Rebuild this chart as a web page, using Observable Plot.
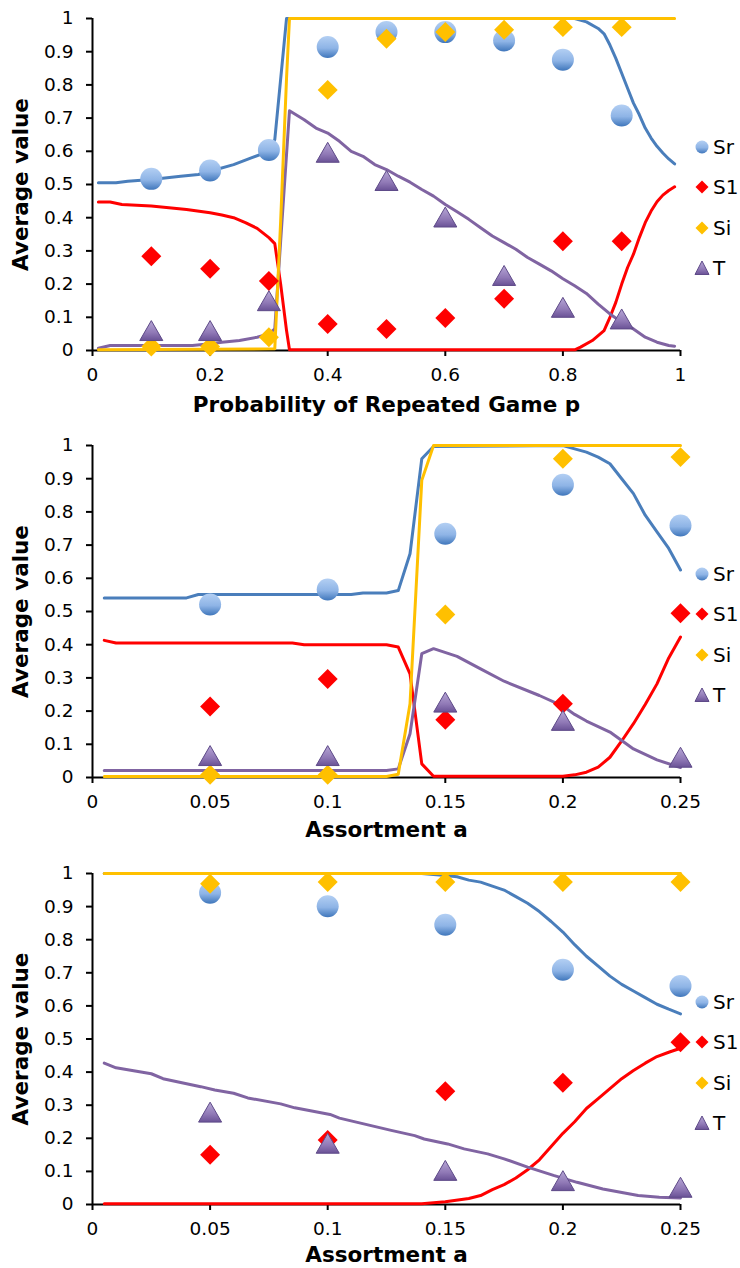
<!DOCTYPE html>
<html><head><meta charset="utf-8">
<script src="https://cdn.jsdelivr.net/npm/d3@7"></script>
<script src="https://cdn.jsdelivr.net/npm/@observablehq/plot@0.6"></script>
<style>
body{margin:0;background:#fff;font-family:"DejaVu Sans",sans-serif;}
.panel{position:relative;width:740px;}
.item{position:absolute;left:694px;display:flex;align-items:center;font-size:20px;color:#000;transform:translateY(-50%);}
.item svg{margin-right:3px;}
g[aria-label="y-axis label"] text, g[aria-label="x-axis label"] text{font-weight:bold!important;font-size:21.5px!important;}
</style></head><body>
<svg width="0" height="0" style="position:absolute"><defs>
<linearGradient id="gSr" x1="0" y1="0" x2="0" y2="1">
<stop offset="0" stop-color="#b3cff3"/><stop offset="0.55" stop-color="#8eb4e6"/><stop offset="1" stop-color="#3f76bb"/>
</linearGradient>
<linearGradient id="gT" x1="0" y1="0" x2="0" y2="1">
<stop offset="0" stop-color="#b7a7d6"/><stop offset="0.6" stop-color="#9079b6"/><stop offset="1" stop-color="#6a5296"/>
</linearGradient>
</defs></svg>
<div id="chart"></div>
<script>
// ---------- shared ----------
const seriesNames = ["Sr", "S1", "Si", "T"];
const yTicks = [0, 0.1, 0.2, 0.3, 0.4, 0.5, 0.6, 0.7, 0.8, 0.9, 1];
const yTickLabels = ["0", "0.1", "0.2", "0.3", "0.4", "0.5", "0.6", "0.7", "0.8", "0.9", "1"];
const yLabel = "Average value";

// ---------- panel 1 ----------
const p1XLabel = "Probability of Repeated Game p";
const p1XTicks = [0, 0.2, 0.4, 0.6, 0.8, 1];
const p1XTickLabels = ["0", "0.2", "0.4", "0.6", "0.8", "1"];
const p1SrLineX = [0.01, 0.04, 0.06, 0.1, 0.15, 0.18, 0.2, 0.24, 0.27, 0.3, 0.31, 0.33, 0.82, 0.84, 0.86, 0.87, 0.88, 0.89, 0.9, 0.91, 0.92, 0.93, 0.94, 0.95, 0.96, 0.97, 0.98, 0.99];
const p1SrLineY = [0.505, 0.505, 0.51, 0.515, 0.525, 0.53, 0.54, 0.56, 0.58, 0.6, 0.635, 1.0, 1.0, 0.99, 0.97, 0.954, 0.92, 0.88, 0.835, 0.79, 0.745, 0.71, 0.67, 0.64, 0.615, 0.595, 0.577, 0.562];
const p1S1LineX = [0.01, 0.03, 0.05, 0.1, 0.13, 0.16, 0.2, 0.22, 0.24, 0.26, 0.28, 0.3, 0.31, 0.32, 0.33, 0.335, 0.82, 0.83, 0.85, 0.87, 0.88, 0.89, 0.9, 0.91, 0.92, 0.93, 0.94, 0.95, 0.96, 0.97, 0.98, 0.99];
const p1S1LineY = [0.447, 0.447, 0.44, 0.435, 0.43, 0.425, 0.415, 0.408, 0.4, 0.385, 0.368, 0.34, 0.322, 0.2, 0.06, 0.002, 0.002, 0.01, 0.03, 0.06, 0.1, 0.145, 0.2, 0.25, 0.29, 0.34, 0.385, 0.42, 0.448, 0.468, 0.482, 0.493];
const p1SiLineX = [0.01, 0.31, 0.32, 0.33, 0.335, 0.99];
const p1SiLineY = [0.002, 0.005, 0.39, 0.82, 1.0, 1.0];
const p1TLineX = [0.01, 0.03, 0.17, 0.2, 0.22, 0.25, 0.28, 0.3, 0.31, 0.32, 0.335, 0.36, 0.38, 0.4, 0.42, 0.44, 0.46, 0.48, 0.5, 0.52, 0.54, 0.56, 0.58, 0.6, 0.62, 0.64, 0.66, 0.68, 0.7, 0.72, 0.74, 0.76, 0.78, 0.8, 0.82, 0.84, 0.86, 0.88, 0.9, 0.92, 0.94, 0.96, 0.98, 0.99];
const p1TLineY = [0.007, 0.015, 0.015, 0.02, 0.025, 0.03, 0.04, 0.05, 0.065, 0.33, 0.722, 0.695, 0.67, 0.655, 0.63, 0.6, 0.585, 0.56, 0.545, 0.525, 0.507, 0.485, 0.465, 0.44, 0.418, 0.395, 0.37, 0.345, 0.325, 0.305, 0.28, 0.26, 0.24, 0.216, 0.195, 0.172, 0.14, 0.11, 0.085, 0.065, 0.04, 0.025, 0.015, 0.013];
const p1MarkX = [0.1, 0.2, 0.3, 0.4, 0.5, 0.6, 0.7, 0.8, 0.9];
const p1SrMark = [0.517, 0.542, 0.604, 0.914, 0.959, 0.959, 0.934, 0.876, 0.708];
const p1S1Mark = [0.284, 0.246, 0.209, 0.08, 0.065, 0.098, 0.156, 0.329, 0.329];
const p1SiMark = [0.012, 0.012, 0.04, 0.785, 0.939, 0.959, 0.966, 0.974, 0.974];
const p1TMark = [0.05, 0.05, 0.14, 0.587, 0.502, 0.392, 0.216, 0.12, 0.085];

// ---------- panel 2 ----------
const p2XLabel = "Assortment a";
const p23XTicks = [0, 0.05, 0.1, 0.15, 0.2, 0.25];
const p23XTickLabels = ["0", "0.05", "0.1", "0.15", "0.2", "0.25"];
const p2SrLineX = [0.005, 0.04, 0.045, 0.11, 0.115, 0.125, 0.13, 0.135, 0.14, 0.145, 0.2, 0.205, 0.21, 0.215, 0.22, 0.225, 0.23, 0.235, 0.24, 0.245, 0.25];
const p2SrLineY = [0.541, 0.541, 0.551, 0.551, 0.556, 0.556, 0.563, 0.674, 0.96, 0.997, 1.0, 0.99, 0.98, 0.965, 0.945, 0.9, 0.855, 0.79, 0.74, 0.69, 0.625];
const p2S1LineX = [0.005, 0.01, 0.085, 0.09, 0.125, 0.13, 0.135, 0.14, 0.145, 0.2, 0.205, 0.21, 0.215, 0.22, 0.225, 0.23, 0.235, 0.24, 0.245, 0.25];
const p2S1LineY = [0.413, 0.405, 0.405, 0.4, 0.4, 0.393, 0.312, 0.041, 0.004, 0.004, 0.008, 0.016, 0.031, 0.061, 0.11, 0.162, 0.22, 0.282, 0.36, 0.423];
const p2SiLineX = [0.005, 0.125, 0.13, 0.135, 0.14, 0.145, 0.25];
const p2SiLineY = [0.003, 0.003, 0.01, 0.222, 0.895, 1.0, 1.0];
const p2TLineX = [0.005, 0.125, 0.13, 0.135, 0.14, 0.145, 0.155, 0.165, 0.175, 0.19, 0.2, 0.205, 0.21, 0.22, 0.23, 0.24, 0.25];
const p2TLineY = [0.021, 0.021, 0.026, 0.132, 0.373, 0.388, 0.365, 0.327, 0.29, 0.247, 0.215, 0.19, 0.17, 0.137, 0.086, 0.053, 0.03];
const p23MarkX = [0.05, 0.1, 0.15, 0.2, 0.25];
const p2SrMark = [0.521, 0.566, 0.734, 0.882, 0.759];
const p2S1Mark = [0.214, 0.297, 0.174, 0.222, 0.495];
const p2SiMark = [0.008, 0.008, 0.491, 0.96, 0.965];
const p2TMark = [0.056, 0.056, 0.217, 0.162, 0.051];

// ---------- panel 3 ----------
const p3XLabel = "Assortment a";
const p3SrLineX = [0.005, 0.14, 0.15, 0.155, 0.16, 0.165, 0.17, 0.175, 0.18, 0.185, 0.19, 0.195, 0.2, 0.205, 0.21, 0.215, 0.22, 0.225, 0.23, 0.235, 0.24, 0.245, 0.25];
const p3SrLineY = [1.0, 1.0, 0.994, 0.99, 0.98, 0.974, 0.962, 0.95, 0.93, 0.91, 0.885, 0.855, 0.823, 0.785, 0.75, 0.72, 0.69, 0.665, 0.645, 0.625, 0.605, 0.59, 0.576];
const p3S1LineX = [0.005, 0.14, 0.15, 0.16, 0.165, 0.17, 0.175, 0.18, 0.185, 0.19, 0.195, 0.2, 0.205, 0.21, 0.215, 0.22, 0.225, 0.23, 0.235, 0.24, 0.245, 0.25];
const p3S1LineY = [0.002, 0.002, 0.008, 0.018, 0.027, 0.045, 0.06, 0.08, 0.105, 0.135, 0.175, 0.215, 0.25, 0.29, 0.32, 0.35, 0.38, 0.405, 0.427, 0.447, 0.46, 0.472];
const p3SiLineX = [0.005, 0.25];
const p3SiLineY = [1.0, 1.0];
const p3TLineX = [0.005, 0.01, 0.025, 0.03, 0.046, 0.052, 0.06, 0.066, 0.08, 0.086, 0.101, 0.105, 0.118, 0.127, 0.137, 0.141, 0.151, 0.158, 0.168, 0.175, 0.185, 0.196, 0.206, 0.217, 0.232, 0.241, 0.25];
const p3TLineY = [0.427, 0.413, 0.395, 0.38, 0.356, 0.346, 0.336, 0.322, 0.304, 0.292, 0.272, 0.261, 0.239, 0.224, 0.208, 0.198, 0.183, 0.168, 0.153, 0.138, 0.113, 0.088, 0.067, 0.047, 0.027, 0.022, 0.02];
const p3SrMark = [0.942, 0.901, 0.845, 0.709, 0.66];
const p3S1Mark = [0.15, 0.195, 0.342, 0.368, 0.49];
const p3SiMark = [0.969, 0.974, 0.974, 0.974, 0.974];
const p3TMark = [0.269, 0.175, 0.093, 0.062, 0.042];

// ---------- styles ----------
const colors = {Sr: "#4a7ebb", S1: "#ff0000", Si: "#ffc000", T: "#8064a2"};

const rows = (xs, ys) => xs.map((x, i) => ({x, y: ys[i]}));

function makePanel(cfg) {
  const div = document.createElement("div");
  div.className = "panel";
  div.style.height = cfg.height + "px";
  const plot = Plot.plot({
    width: 740,
    height: cfg.height,
    marginLeft: 92,
    marginRight: 60,
    marginTop: cfg.marginTop,
    marginBottom: cfg.marginBottom,
    style: {fontFamily: "DejaVu Sans", fontSize: "18.5px", color: "#000", background: "#fff", overflow: "visible"},
    x: {domain: cfg.xDomain},
    y: {domain: [0, 1]},
    marks: [
      Plot.axisY({ticks: yTicks, tickFormat: d => yTickLabels[yTicks.indexOf(d)], tickSize: 6, tickPadding: 13, strokeWidth: 2, stroke: "#000",
        label: yLabel, labelAnchor: "center", labelOffset: 80, labelArrow: "none"}),
      Plot.axisX({ticks: cfg.xTicks, tickFormat: d => cfg.xTickLabels[cfg.xTicks.indexOf(d)], tickSize: 6, tickPadding: 11, strokeWidth: 2, stroke: "#000",
        label: cfg.xLabel, labelAnchor: "center", labelOffset: cfg.labelOffset, labelArrow: "none"}),
      Plot.ruleX([cfg.xDomain[0]], {stroke: "#000", strokeWidth: 2}),
      Plot.ruleY([0], {stroke: "#000", strokeWidth: 2}),
      Plot.line(rows(cfg.lines.Sr[0], cfg.lines.Sr[1]), {x: "x", y: "y", stroke: colors.Sr, strokeWidth: 3}),
      Plot.line(rows(cfg.lines.S1[0], cfg.lines.S1[1]), {x: "x", y: "y", stroke: colors.S1, strokeWidth: 3}),
      Plot.line(rows(cfg.lines.T[0], cfg.lines.T[1]), {x: "x", y: "y", stroke: colors.T, strokeWidth: 3}),
      Plot.line(rows(cfg.lines.Si[0], cfg.lines.Si[1]), {x: "x", y: "y", stroke: colors.Si, strokeWidth: 3}),
      Plot.dot(rows(cfg.markX, cfg.marks.Sr), {x: "x", y: "y", r: 11, symbol: "circle", fill: "url(#gSr)"}),
      Plot.dot(rows(cfg.markX, cfg.marks.S1), {x: "x", y: "y", r: 9, symbol: "diamond2", fill: colors.S1}),
      Plot.dot(rows(cfg.markX, cfg.marks.Si), {x: "x", y: "y", r: 9, symbol: "diamond2", fill: colors.Si}),
      Plot.dot(rows(cfg.markX, cfg.marks.T), {x: "x", y: "y", r: 11, symbol: "triangle2", fill: "url(#gT)", stroke: "#5e4a88", strokeWidth: 1})
    ]
  });
  div.appendChild(plot);
  // legend
  const icons = {
    Sr: '<circle cx="8" cy="8" r="6.5" fill="url(#gSr)"/>',
    S1: '<path d="M8 1.5 L14.5 8 L8 14.5 L1.5 8 Z" fill="#ff0000"/>',
    Si: '<path d="M8 1.5 L14.5 8 L8 14.5 L1.5 8 Z" fill="#ffc000"/>',
    T: '<path d="M8 1 L15 14.5 L1 14.5 Z" fill="url(#gT)" stroke="#5e4a88" stroke-width="1"/>'
  };
  const legendY = [129, 169, 210, 250];
  seriesNames.forEach((s, i) => {
    const it = document.createElement("div");
    it.className = "item";
    it.style.top = (cfg.marginTop + legendY[i]) + "px";
    it.innerHTML = `<svg width="16" height="16" viewBox="0 0 16 16">${icons[s]}</svg><span>${s}</span>`;
    div.appendChild(it);
  });
  return div;
}

const chart = document.getElementById("chart");
chart.appendChild(makePanel({
  height: 422, marginTop: 18, marginBottom: 72, xDomain: [0, 1], xTicks: p1XTicks, xTickLabels: p1XTickLabels, xLabel: p1XLabel, labelOffset: 61,
  lines: {Sr: [p1SrLineX, p1SrLineY], S1: [p1S1LineX, p1S1LineY], Si: [p1SiLineX, p1SiLineY], T: [p1TLineX, p1TLineY]},
  markX: p1MarkX, marks: {Sr: p1SrMark, S1: p1S1Mark, Si: p1SiMark, T: p1TMark}
}));
chart.appendChild(makePanel({
  height: 428, marginTop: 23, marginBottom: 73, xDomain: [0, 0.25], xTicks: p23XTicks, xTickLabels: p23XTickLabels, xLabel: p2XLabel, labelOffset: 59,
  lines: {Sr: [p2SrLineX, p2SrLineY], S1: [p2S1LineX, p2S1LineY], Si: [p2SiLineX, p2SiLineY], T: [p2TLineX, p2TLineY]},
  markX: p23MarkX, marks: {Sr: p2SrMark, S1: p2S1Mark, Si: p2SiMark, T: p2TMark}
}));
chart.appendChild(makePanel({
  height: 418, marginTop: 23, marginBottom: 64, xDomain: [0, 0.25], xTicks: p23XTicks, xTickLabels: p23XTickLabels, xLabel: p3XLabel, labelOffset: 57,
  lines: {Sr: [p3SrLineX, p3SrLineY], S1: [p3S1LineX, p3S1LineY], Si: [p3SiLineX, p3SiLineY], T: [p3TLineX, p3TLineY]},
  markX: p23MarkX, marks: {Sr: p3SrMark, S1: p3S1Mark, Si: p3SiMark, T: p3TMark}
}));
</script>
</body></html>
